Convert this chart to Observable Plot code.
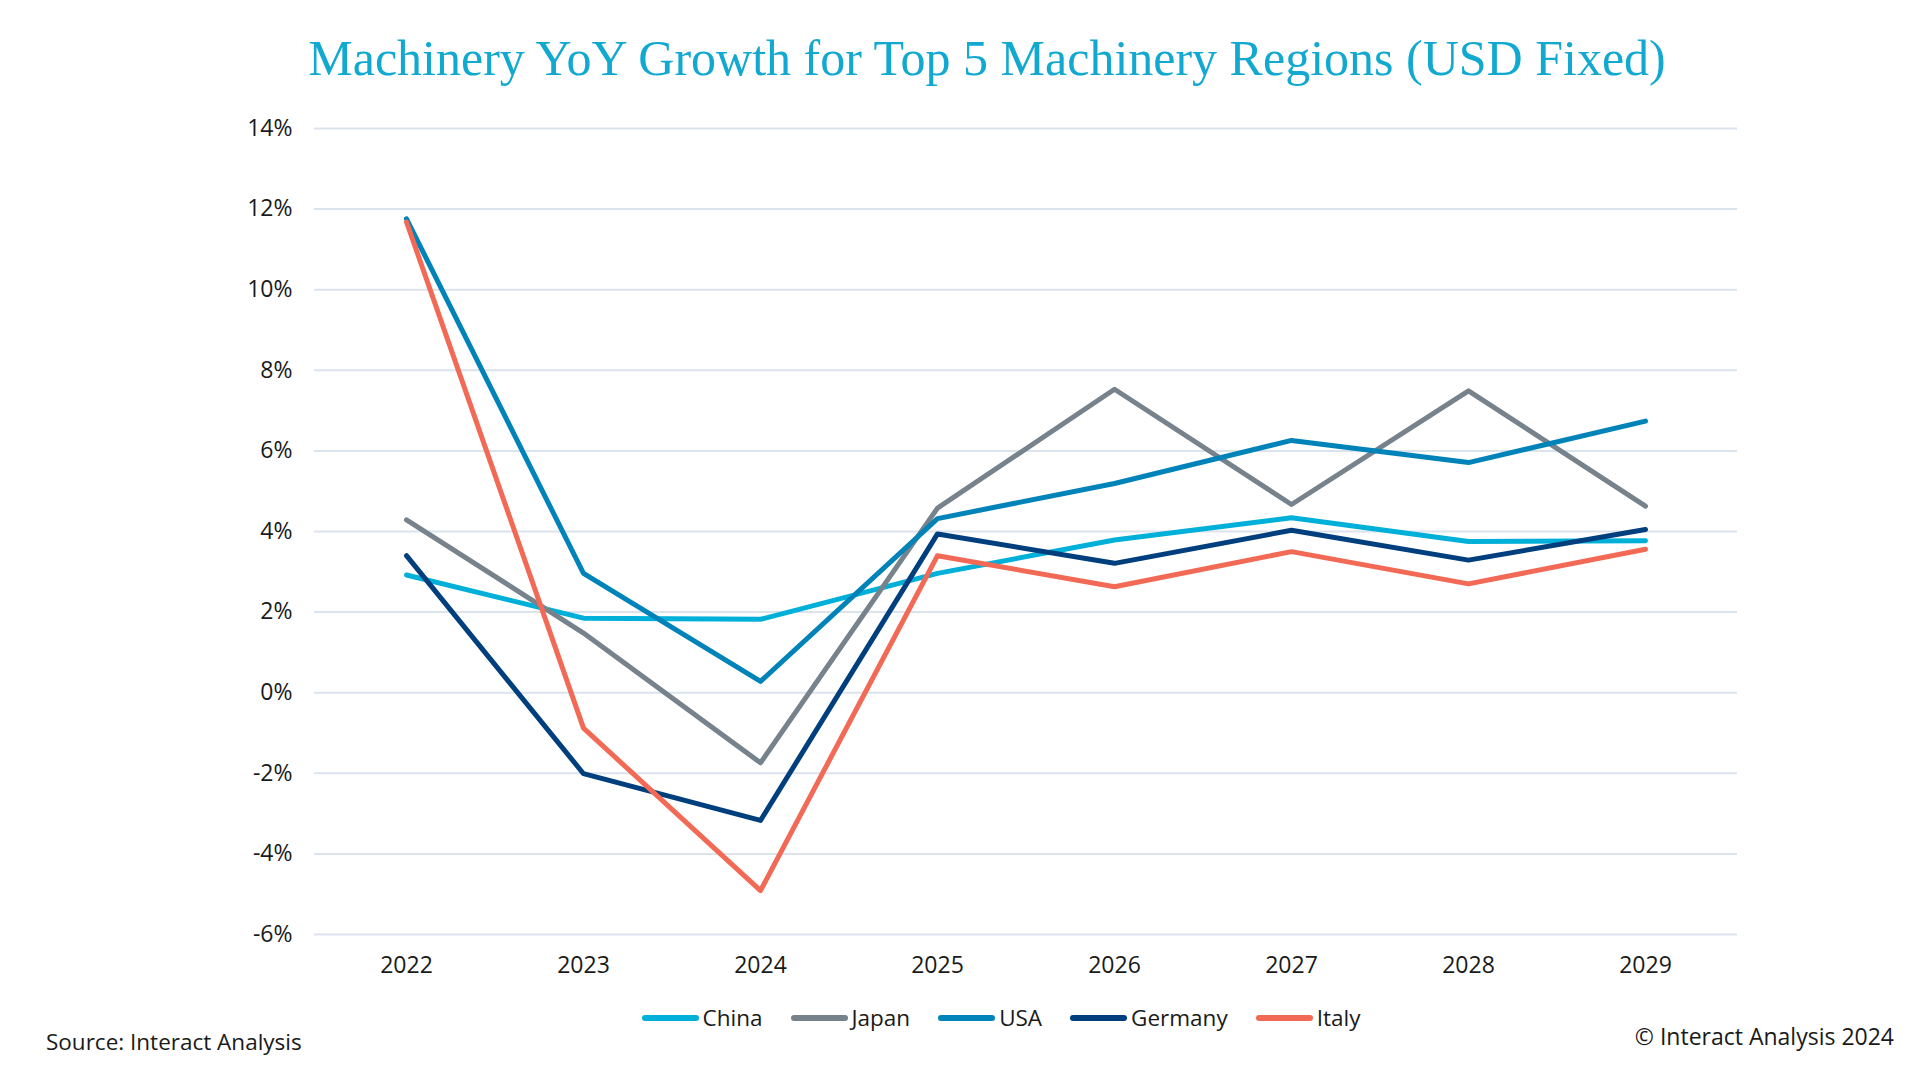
<!DOCTYPE html>
<html>
<head>
<meta charset="utf-8">
<script src="https://cdn.jsdelivr.net/npm/d3@7"></script>
<script src="https://cdn.jsdelivr.net/npm/@observablehq/plot@0.6"></script>
<style>
  html, body { margin: 0; padding: 0; background: #ffffff; }
  #root { position: relative; width: 1920px; height: 1080px; background: #ffffff; overflow: hidden; font-family: "Open Sans", sans-serif; }
  #title { position: absolute; left: 0; width: 1920px; top: 28px; text-align: center; padding-left: 54px; box-sizing: border-box;
           font-family: "Liberation Serif", "DejaVu Serif", serif; font-size: 50px; color: #12a9d1; line-height: 60px; white-space: nowrap; }
  #chart { position: absolute; left: 0; top: 0; }
  #legend { position: absolute; top: 1003px; left: 0; width: 1920px; display: flex; justify-content: center; padding-left: 82px; box-sizing: border-box;
            font-size: 22.5px; color: #1a1a1a; line-height: 30px; }
  .item { display: flex; align-items: center; margin: 0 14px; }
  .sw { width: 57px; height: 6px; border-radius: 3px; margin-right: 4px; }
  #source { position: absolute; left: 46px; top: 1027px; font-size: 22.5px; color: #1a1a1a; line-height: 30px; }
  #copy { position: absolute; right: 26px; top: 1021px; font-size: 23px; color: #1a1a1a; line-height: 30px; }
</style>
</head>
<body>
<div id="root">
  <div id="title">Machinery YoY Growth for Top 5 Machinery Regions (USD Fixed)</div>
  <div id="chart"></div>
  <div id="legend"></div>
  <div id="source">Source: Interact Analysis</div>
  <div id="copy">© Interact Analysis 2024</div>
</div>
<script>
const years = ["2022", "2023", "2024", "2025", "2026", "2027", "2028", "2029"];
const regions = ["China", "Japan", "USA", "Germany", "Italy"];
const regionColors = ["#00b0d8", "#76838c", "#0083b8", "#003f7d", "#f26a55"];
const yTicks = [-6, -4, -2, 0, 2, 4, 6, 8, 10, 12, 14];

const china   = [2.92, 1.85, 1.82, 2.96, 3.79, 4.34, 3.75, 3.77];
const japan   = [4.29, 1.48, -1.74, 4.58, 7.53, 4.67, 7.49, 4.63];
const usa     = [11.76, 2.96, 0.28, 4.32, 5.19, 6.26, 5.71, 6.74];
const germany = [3.40, -2.01, -3.17, 3.94, 3.21, 4.03, 3.29, 4.05];
const italy   = [11.68, -0.88, -4.91, 3.40, 2.63, 3.50, 2.70, 3.56];

const seriesValues = [china, japan, usa, germany, italy];
const rows = regions.flatMap((r, i) => years.map((y, j) => ({region: r, year: y, value: seriesValues[i][j]})));

const chart = Plot.plot({
  width: 1920,
  height: 1080,
  marginTop: 128,
  marginBottom: 146,
  marginLeft: 314,
  marginRight: 183,
  style: {fontFamily: "Open Sans", fontSize: "23px", color: "#1a1a1a", background: "transparent", overflow: "visible"},
  x: {type: "point", domain: years, padding: 0.5, label: null},
  y: {domain: [-6, 14], label: null},
  color: {domain: regions, range: regionColors},
  marks: [
    Plot.gridY(yTicks, {stroke: "#dbe3ec", strokeOpacity: 1, strokeWidth: 2}),
    Plot.axisY({ticks: yTicks, tickSize: 0, tickPadding: 22, tickFormat: d => d + "%", label: null}),
    Plot.axisX({tickSize: 0, tickPadding: 22, label: null}),
    Plot.line(rows, {x: "year", y: "value", z: "region", stroke: "region", strokeWidth: 5, strokeLinejoin: "round", strokeLinecap: "round"})
  ]
});
document.getElementById("chart").appendChild(chart);

const legend = document.getElementById("legend");
regions.forEach((r, i) => {
  const item = document.createElement("div");
  item.className = "item";
  const sw = document.createElement("span");
  sw.className = "sw";
  sw.style.background = regionColors[i];
  const t = document.createElement("span");
  t.textContent = r;
  item.appendChild(sw);
  item.appendChild(t);
  legend.appendChild(item);
});
</script>
</body>
</html>
